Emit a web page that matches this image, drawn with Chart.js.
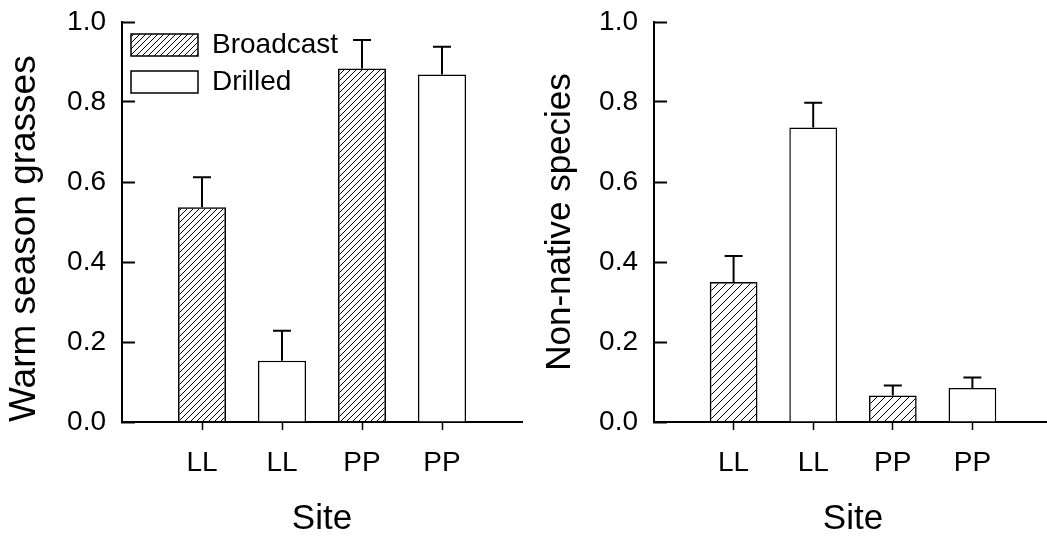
<!DOCTYPE html>
<html><head><meta charset="utf-8">
<script src="https://cdn.jsdelivr.net/npm/chart.js@4.4.1/dist/chart.umd.min.js"></script>
<style>
html,body{margin:0;padding:0;background:#fff;overflow:hidden;width:1047px;height:538px;}
#wrapL{position:absolute;left:0;top:0;width:530px;height:538px;}
#wrapR{position:absolute;left:530px;top:0;width:530px;height:538px;}
</style></head><body>
<div id="wrapL"><canvas id="cL" width="530" height="538"></canvas></div>
<div id="wrapR"><canvas id="cR" width="530" height="538"></canvas></div>
<script>
// ---- data ----
const siteLabels = ['LL', 'LL', 'PP', 'PP'];
const sitePositions = [1, 2, 3, 4];
const broadcastPos = [1, 3];
const drilledPos = [2, 4];
const yTicks = [0, 0.2, 0.4, 0.6, 0.8, 1.0];

const warmBroadcast = [0.537, 0.884];
const warmBroadcastSE = [0.075, 0.071];
const warmDrilled = [0.153, 0.869];
const warmDrilledSE = [0.075, 0.069];

const nonBroadcast = [0.350, 0.066];
const nonBroadcastSE = [0.065, 0.025];
const nonDrilled = [0.736, 0.085];
const nonDrilledSE = [0.062, 0.026];

const FONT = '"Liberation Sans", Arial, Helvetica, sans-serif';

function hatch(step) {
  const c = document.createElement('canvas');
  c.width = step; c.height = step;
  const g = c.getContext('2d');
  g.strokeStyle = '#000';
  g.lineWidth = 1;
  g.beginPath();
  g.moveTo(-1, step + 1); g.lineTo(step + 1, -1);
  g.moveTo(-step / 2 - 1, step / 2 + 1); g.lineTo(step / 2 + 1, -step / 2 - 1);
  g.moveTo(step / 2 - 1, step * 1.5 + 1); g.lineTo(step * 1.5 + 1, step / 2 - 1);
  g.stroke();
  return g.createPattern(c, 'repeat');
}

const errorBars = {
  id: 'errorBars',
  afterDatasetsDraw(chart) {
    const ctx = chart.ctx;
    const ys = chart.scales.y;
    chart.data.datasets.forEach((ds, di) => {
      const meta = chart.getDatasetMeta(di);
      meta.data.forEach((bar, i) => {
        const v = ds.data[i].y;
        const top = ys.getPixelForValue(v + ds.errors[i]);
        ctx.save();
        ctx.strokeStyle = '#000';
        ctx.lineWidth = 2;
        ctx.beginPath();
        ctx.moveTo(bar.x, bar.y);
        ctx.lineTo(bar.x, top);
        ctx.moveTo(bar.x - 9, top);
        ctx.lineTo(bar.x + 9, top);
        ctx.stroke();
        ctx.restore();
      });
    });
  }
};

function pts(pos, vals) { return pos.map((x, i) => ({ x: x, y: vals[i] })); }
function noPad(s) { s.paddingTop = 0; s.paddingBottom = 0; s.paddingLeft = 0; s.paddingRight = 0; }

function makeChart(canvasId, yTitle, yTitleSize, yTitleAlign, bVals, bSE, dVals, dSE, hatchStep, leftWidth, titlePad, showLegend) {
  const ds = [
    { label: 'Broadcast', data: pts(broadcastPos, bVals), errors: bSE,
      backgroundColor: hatch(hatchStep), borderColor: '#000', borderWidth: 1.5,
      grouped: false, barPercentage: 0.6, categoryPercentage: 1.0 },
    { label: 'Drilled', data: pts(drilledPos, dVals), errors: dSE,
      backgroundColor: '#fff', borderColor: '#000', borderWidth: 1.5,
      grouped: false, barPercentage: 0.6, categoryPercentage: 1.0 }
  ];
  return new Chart(document.getElementById(canvasId), {
    type: 'bar',
    data: { datasets: ds },
    plugins: [errorBars],
    options: {
      responsive: false,
      animation: false,
      devicePixelRatio: 1,
      layout: { padding: { top: 22, right: 8, bottom: 0, left: 0 } },
      plugins: {
        legend: {
          display: showLegend,
          position: 'chartArea',
          align: 'start',
          title: { display: true, text: ' ', font: { size: 10, lineHeight: 1 }, padding: { top: 6, bottom: 6 } },
          labels: { boxWidth: 67, boxHeight: 22, padding: 9, color: '#000',
                    font: { family: FONT, size: 28 } }
        },
        tooltip: { enabled: false }
      },
      scales: {
        x: {
          type: 'linear', min: 0, max: 5, offset: false,
          afterBuildTicks: s => { s.ticks = sitePositions.map(v => ({ value: v })); },
          afterFit: s => { s.height = 116; noPad(s); },
          grid: { offset: false, drawOnChartArea: false, drawTicks: true, tickLength: 8, tickWidth: 1.5, tickColor: '#000' },
          border: { display: true, color: '#000', width: 2 },
          ticks: { padding: 16, color: '#000', font: { family: FONT, size: 28 },
                   maxRotation: 0, autoSkip: false,
                   callback: (v, i) => siteLabels[i] },
          title: { display: true, text: 'Site', color: '#000',
                   font: { family: FONT, size: 35, lineHeight: 1 }, padding: { top: 0, bottom: 1 } }
        },
        y: {
          min: 0, max: 1,
          afterBuildTicks: s => { s.ticks = yTicks.map(v => ({ value: v })); },
          afterFit: s => { s.width = leftWidth; noPad(s); },
          grid: { drawOnChartArea: false, drawTicks: true, tickLength: -13, tickWidth: 2, tickColor: '#000' },
          border: { display: true, color: '#000', width: 2 },
          ticks: { padding: 29, color: '#000', font: { family: FONT, size: 28 },
                   callback: v => Number(v).toFixed(1) },
          title: { display: true, text: yTitle, color: '#000', align: yTitleAlign,
                   font: { family: FONT, size: yTitleSize }, padding: { top: titlePad, bottom: 0 } }
        }
      }
    }
  });
}

makeChart('cL', 'Warm season grasses', 37, 'start', warmBroadcast, warmBroadcastSE, warmDrilled, warmDrilledSE, 6, 122, 3, true);
makeChart('cR', 'Non-native species', 35, 'center', nonBroadcast, nonBroadcastSE, nonDrilled, nonDrilledSE, 8, 124, 9, false);
</script>
</body></html>
